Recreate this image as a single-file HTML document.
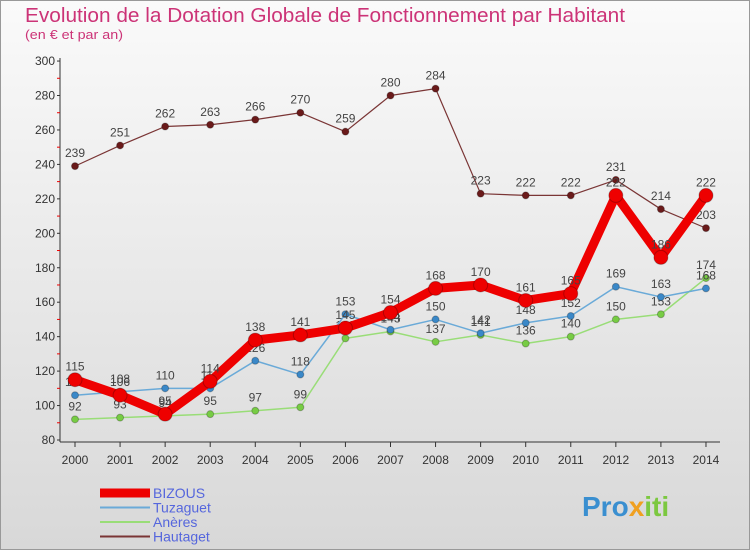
<!DOCTYPE html>
<html><head><meta charset="utf-8"><style>
body{margin:0;width:750px;height:550px;overflow:hidden;font-family:"Liberation Sans",sans-serif}
svg text{font-family:"Liberation Sans",sans-serif}
</style></head><body>
<svg width="750" height="550" viewBox="0 0 750 550">
<defs><linearGradient id="bg" x1="0" y1="0" x2="0" y2="1"><stop offset="0" stop-color="#fafafa"/><stop offset="1" stop-color="#d8d8d8"/></linearGradient></defs>
<rect x="0.5" y="0.5" width="749" height="549" fill="url(#bg)" stroke="#999"/>
<text x="25" y="22" font-size="20" fill="#cc3377" textLength="600" lengthAdjust="spacingAndGlyphs">Evolution de la Dotation Globale de Fonctionnement par Habitant</text>
<text x="25" y="39" font-size="13" fill="#cc3377" textLength="98" lengthAdjust="spacingAndGlyphs">(en € et par an)</text>
<g id="axes"></g><g id="series"></g><g id="legend"></g>
<g><text x="582" y="516" font-size="28" font-weight="bold" fill="#3a8fd0">Pro<tspan fill="#f0a020">x</tspan><tspan fill="#7cc840">iti</tspan></text></g>
</svg>
<script>
const years=[2000,2001,2002,2003,2004,2005,2006,2007,2008,2009,2010,2011,2012,2013,2014];
const yTicks=[80,100,120,140,160,180,200,220,240,260,280,300];
const bizous=[115,106,95,114,138,141,145,154,168,170,161,165,222,186,222];
const tuzaguet=[106,108,110,110,126,118,153,144,150,142,148,152,169,163,168];
const aneres=[92,93,94,95,97,99,139,143,137,141,136,140,150,153,174];
const hautaget=[239,251,262,263,266,270,259,280,284,223,222,222,231,214,203];
const NS="http://www.w3.org/2000/svg";
const X=i=>75+i*45.07, Y=v=>440-(v-80)*1.7225;
function mk(t,a,p){const e=document.createElementNS(NS,t);for(const k in a)e.setAttribute(k,a[k]);p.appendChild(e);return e;}
const ax=document.getElementById('axes');
const yl=mk('line',{x1:60,y1:58,x2:60,y2:442,stroke:'#333'},ax);


const xl=mk('line',{x1:60,y1:442,x2:720,y2:442,stroke:'#333'},ax);


yTicks.forEach(v=>{
 mk('line',{x1:57,y1:Y(v),x2:60,y2:Y(v),stroke:'#333'},ax);
 if(v<300)mk('line',{x1:57,y1:Y(v+10),x2:60,y2:Y(v+10),stroke:'#e00'},ax);
 const t=mk('text',{x:55,y:Y(v)+4,'font-size':12,'text-anchor':'end',fill:'#333'},ax);t.textContent=v;
 
 
});
years.forEach((y,i)=>{
 mk('line',{x1:X(i),y1:442,x2:X(i),y2:447,stroke:'#333'},ax);
 const t=mk('text',{x:X(i),y:464,'font-size':12,'text-anchor':'middle',fill:'#333'},ax);t.textContent=y;
 
 
});
const sg=document.getElementById('series');
function draw(name,data,color,dot,w,r){
 const g=mk('g',{},sg);
 
 
 mk('polyline',{points:data.map((v,i)=>X(i)+','+Y(v)).join(' '),fill:'none',stroke:color,'stroke-width':w,'stroke-linejoin':'round'},g);
 data.forEach((v,i)=>{
  const c=mk('circle',{cx:X(i),cy:Y(v),r:r,fill:dot,stroke:'rgba(0,0,0,0.25)'},g);
  
  
  const t=mk('text',{x:X(i),y:Y(v)-9,'font-size':12,'text-anchor':'middle',fill:'#444'},g);t.textContent=v;
 });
}
draw('hautaget',hautaget,'#7a3535','#6a1a1a',1.2,3.5);
draw('aneres',aneres,'#99dd77','#77cc44',1.5,3.5);
draw('tuzaguet',tuzaguet,'#6aaad8','#3a88c8',1.5,3.5);
draw('bizous',bizous,'#ee0000','#ee0000',9,7);
const lg=document.getElementById('legend');
[['BIZOUS','#ee0000',9,'#5566dd'],['Tuzaguet','#6aaad8',2,'#5566dd'],['Anères','#99dd77',2,'#5566dd'],['Hautaget','#7a3535',2,'#5566dd']].forEach((d,i)=>{
 const y=493+i*14.5;
 const g=mk('g',{},lg);
 
 
 mk('line',{x1:100,y1:y,x2:150,y2:y,stroke:d[1],'stroke-width':d[2]},g);
 const t=mk('text',{x:153,y:y+5,'font-size':14,fill:d[3]},g);t.textContent=d[0];
});
</script>
</body></html>
